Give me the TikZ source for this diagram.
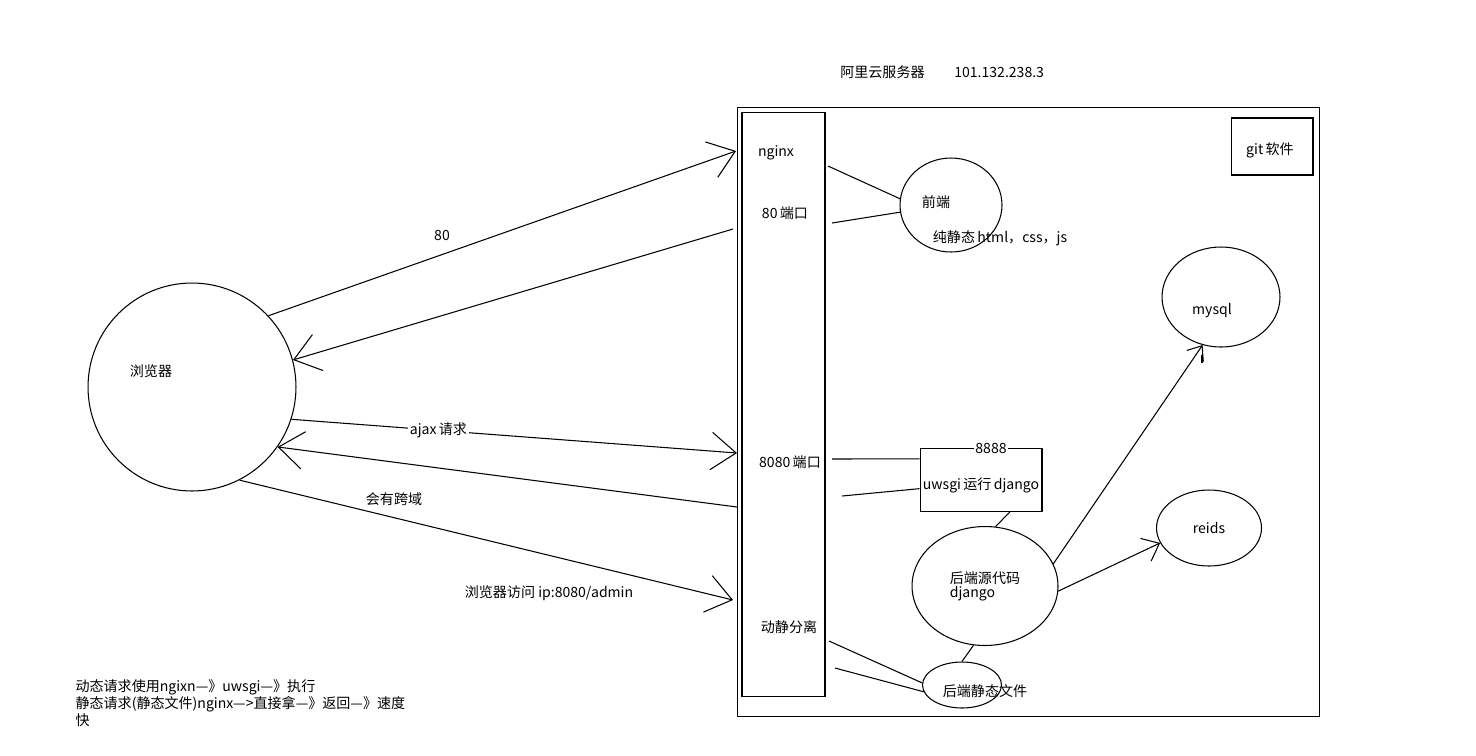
\documentclass[tikz,border=0pt]{standalone}
\usepackage{fontspec}
\setmainfont{Noto Sans CJK SC}
\usetikzlibrary{arrows.meta, shapes.geometric}

\begin{document}
\begin{tikzpicture}[x=0.02cm, y=-0.02cm, >={Straight Barb[length=5mm, width=7.5mm]}, line width=0.6pt, every node/.style={font=\fontsize{8}{8}\selectfont, inner sep=1pt}]
\tikzset{
  bubble/.style={draw, ellipse, inner sep=0pt},
  boxnode/.style={draw, rectangle, inner sep=0pt},
  tag/.style={fill=white, inner sep=1pt},
}
\useasboundingbox (0,0) rectangle (1476,755);
% server
\node[anchor=west] (cloud) at (838,72) {阿里云服务器};
\node[anchor=west] (ip) at (952,72) {101.132.238.3};
\node[boxnode, minimum width=11.66cm, minimum height=12.2cm] (server) at (1028.5,412) {};
\node[boxnode, minimum width=1.66cm, minimum height=11.7cm] (nginxcol) at (783.5,404.5) {};
\node[boxnode, minimum width=1.64cm, minimum height=1.14cm] (git) at (1272,146.5) {};
\node (gittxt) at (1270,150) {git\,软件};
\node (nginx) at (776,153) {nginx};
\node (port80) at (785,213) {80\,端口};
\node (port8080) at (790,462) {8080\,端口};
\node (split) at (789,627) {动静分离};
% browser
\node[draw, circle, minimum size=4.16cm, inner sep=0pt] (browser) at (192,387) {};
\node (browsertxt) at (151,371) {浏览器};
% frontend
\node[bubble, minimum width=2.04cm, minimum height=1.88cm] (front) at (951,205) {};
\node (fronttxt) at (936,202) {前端};
\node (pure) at (1000,238) {纯静态\,html，css，js};
% backend
\node[boxnode, minimum width=2.44cm, minimum height=1.26cm] (uwsgi) at (981,480) {};
\node (uwsgitxt) at (981,485) {uwsgi\,运行\,django};
\node[tag] (port8888) at (991,448) {8888};
\node[bubble, minimum width=2.92cm, minimum height=2.38cm, align=left] (backend) at (985,586) {后端源代码\\django};
\node[bubble, minimum width=1.58cm, minimum height=0.92cm] (static) at (962,685) {};
\node (statictxt) at (985,691) {后端静态文件};
\node[bubble, minimum width=2.36cm, minimum height=2cm] (mysql) at (1221,297) {};
\node (mysqltxt) at (1212,311) {mysql};
\node[bubble, minimum width=2.1cm, minimum height=1.52cm] (redis) at (1209,528) {reids};
% free ends on the nginx column
\coordinate (in80) at (736,151);
\coordinate (out80) at (733,229);
\coordinate (inajax) at (737,453);
\coordinate (outcors) at (737,507);
\coordinate (inadmin) at (733,600);
\coordinate (nginxr) at (828,166);
\coordinate (port80r) at (832,223);
\coordinate (port8080r) at (832,459);
\coordinate (port8080s) at (842,496);
\coordinate (splitr) at (829,641);
\coordinate (splits) at (835,668);
% requests
\draw[->] (browser.43) -- (in80);
\node (lbl80) at (442,235) {80};
\draw[->] (out80) -- (browser.15);
\draw[->] (browser.-18) -- node[tag, pos=0.33] {ajax\,请求} (inajax);
\draw[->] (outcors) -- (browser.-35);
\node (lblcors) at (394,499) {会有跨域};
\draw[->] (browser.-63) -- (inadmin);
\node (lbladmin) at (549,593) {浏览器访问 ip:8080/admin};
% inside the server
\draw (nginxr) -- (front.173);
\draw (port80r) -- (front.188);
\draw (port8080r) -- (uwsgi.161);
\draw (port8080s) -- (uwsgi.188);
\draw (uwsgi.-48) -- (backend.80);
\draw (backend.-101) -- (static.north);
\draw (splitr) -- (static.177);
\draw (splits) -- (static.190);
\draw[->, >={Straight Barb[length=2.5mm, width=4mm]}] (backend.18) -- (mysql.249);
\draw (1202,355) -- (1202,363);
\draw[->, >={Straight Barb[length=3mm, width=5mm]}] (backend.-4) -- (redis.197);
% note
\node[anchor=north west, align=left, font=\fontsize{8}{7.9}\selectfont, inner sep=0pt] (note) at (75,679) {动态请求使用ngixn—》uwsgi—》执行\\静态请求(静态文件)nginx—>直接拿—》返回—》速度\\快};
\end{tikzpicture}
\end{document}
